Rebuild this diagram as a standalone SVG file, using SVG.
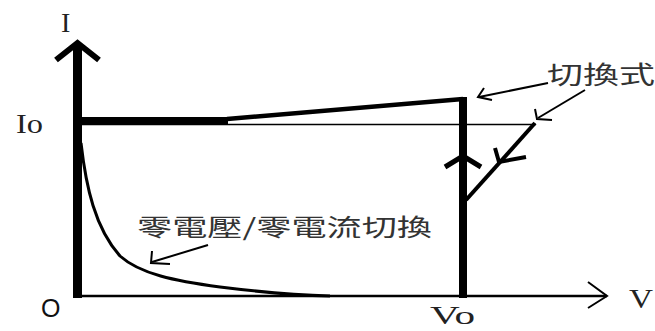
<svg xmlns="http://www.w3.org/2000/svg" width="655" height="331" viewBox="0 0 655 331">
<style>
.ln{stroke:#000;fill:none;stroke-linecap:butt;stroke-linejoin:miter}
.serif{font-family:"Liberation Serif","Times New Roman",serif;fill:#222}
.cjk{font-family:"Noto Sans CJK TC","Noto Sans CJK SC",sans-serif;fill:#333}
</style>
<rect width="655" height="331" fill="#fff"/>
<g id="axes">
<line class="ln" x1="77.5" y1="46" x2="77.5" y2="298" stroke-width="9"/>
<polyline class="ln" points="56,60 77.5,43 99,60" stroke-width="6"/>
<line class="ln" x1="74" y1="296" x2="607" y2="296" stroke-width="2.5"/>
<polyline class="ln" points="588,282 607,296 588,308" stroke-width="2"/>
</g>
<g id="curves">
<line class="ln" x1="78" y1="120.5" x2="228" y2="120.5" stroke-width="7"/>
<line class="ln" x1="227" y1="119" x2="463" y2="99" stroke-width="4.5"/>
<line class="ln" x1="463" y1="97" x2="463" y2="298" stroke-width="8"/>
<line class="ln" x1="78" y1="124.5" x2="536" y2="124.5" stroke-width="1.5"/>
<line class="ln" x1="535" y1="123" x2="466" y2="200" stroke-width="4"/>
<polyline class="ln" points="495,148 499,162 526,157" stroke-width="4"/>
<polyline class="ln" points="445,167 463,156 481,167" stroke-width="5"/>
<path class="ln" d="M81,143 C86,187 95,228 120,256 C140,274 175,281 220,287 C260,292 290,295 330,296" stroke-width="3"/>
</g>
<g id="annotations">
<line class="ln" x1="548" y1="83" x2="479" y2="97" stroke-width="2"/>
<polyline class="ln" points="484,88 478,97 492,100" stroke-width="2"/>
<line class="ln" x1="585" y1="90" x2="538" y2="118" stroke-width="2"/>
<polyline class="ln" points="535,109 537,119 552,120" stroke-width="2"/>
<line class="ln" x1="208" y1="245" x2="152" y2="262" stroke-width="2"/>
<polyline class="ln" points="152,251 151,263 170,264" stroke-width="2"/>
</g>
<g id="labels">
<text class="serif" x="61" y="32" font-size="28">I</text>
<text class="serif" x="16" y="133" font-size="28" textLength="27" lengthAdjust="spacingAndGlyphs">Io</text>
<text x="41" y="317" font-size="25" font-family="'Liberation Sans',Arial,sans-serif" fill="#111">O</text>
<text class="serif" x="430" y="324" font-size="25" textLength="45" lengthAdjust="spacingAndGlyphs">Vo</text>
<text class="serif" x="629" y="308" font-size="27" textLength="24" lengthAdjust="spacingAndGlyphs">V</text>
<text class="cjk" x="137" y="236" font-size="24" textLength="295" lengthAdjust="spacingAndGlyphs">零電壓/零電流切換</text>
<text class="cjk" x="547" y="84" font-size="25" textLength="108" lengthAdjust="spacingAndGlyphs">切換式</text>
</g>
</svg>
